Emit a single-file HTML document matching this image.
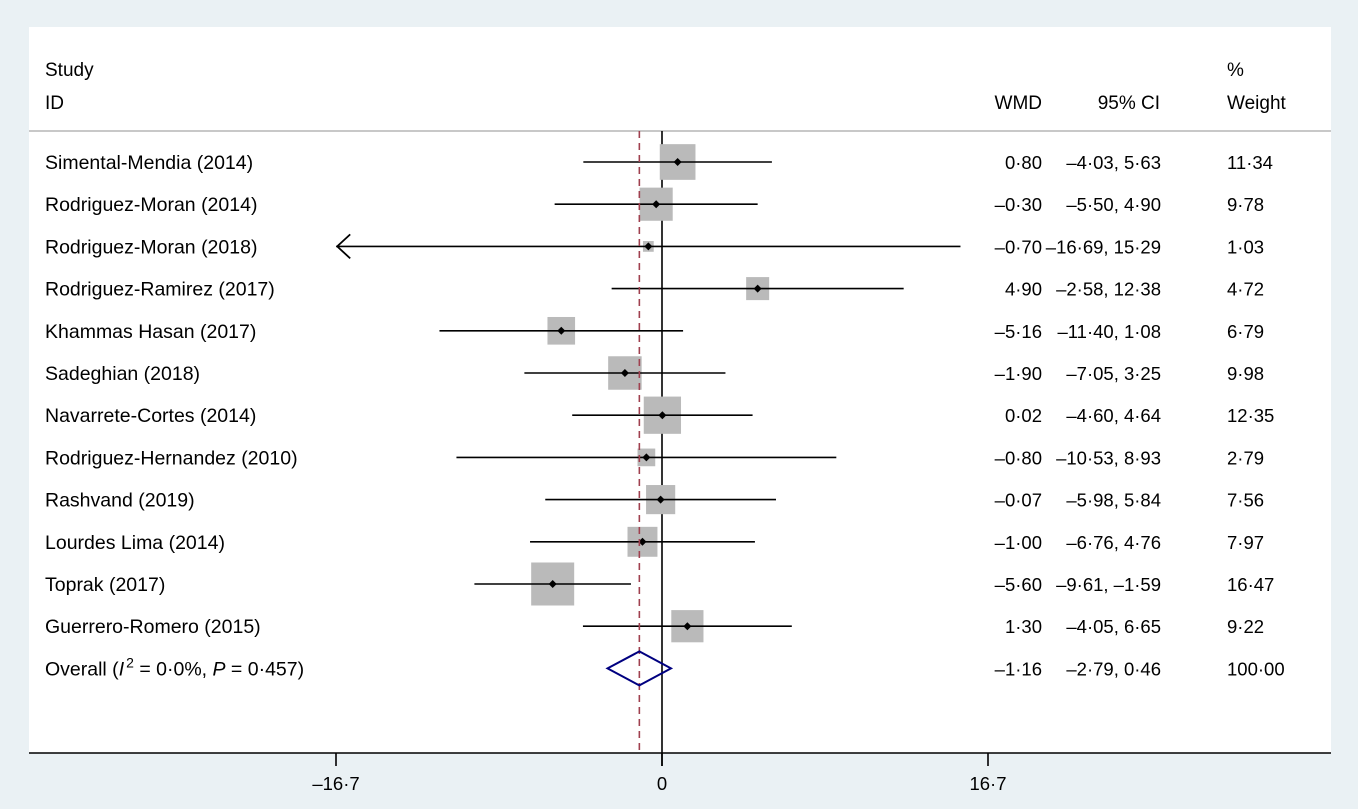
<!DOCTYPE html>
<html><head><meta charset="utf-8">
<style>
html,body{margin:0;padding:0;background:#eaf1f4;}
svg{display:block;font-family:"Liberation Sans",Arial,sans-serif;}
</style></head>
<body>
<svg id="chart" width="1358" height="809" viewBox="0 0 1358 809">
<rect x="0" y="0" width="1358" height="809" fill="#eaf1f4"/>
<rect x="29" y="27" width="1302" height="726" fill="#ffffff"/>
<g font-size="19" fill="#000">
<text x="45" y="76">Study</text>
<text x="45" y="109">ID</text>
<text x="1042" y="109" text-anchor="end">WMD</text>
<text x="1160" y="109" text-anchor="end">95% CI</text>
<text x="1227" y="76">%</text>
<text x="1227" y="109">Weight</text>
</g>
<line x1="29" y1="131" x2="1331" y2="131" stroke="#c8c8c8" stroke-width="2"/>
<g id="marks"></g>
</svg>
<script>
const studies = ["Simental-Mendia (2014)","Rodriguez-Moran (2014)","Rodriguez-Moran (2018)","Rodriguez-Ramirez (2017)","Khammas Hasan (2017)","Sadeghian (2018)","Navarrete-Cortes (2014)","Rodriguez-Hernandez (2010)","Rashvand (2019)","Lourdes Lima (2014)","Toprak (2017)","Guerrero-Romero (2015)"];
const wmd = [0.80,-0.30,-0.70,4.90,-5.16,-1.90,0.02,-0.80,-0.07,-1.00,-5.60,1.30];
const lower = [-4.03,-5.50,-16.69,-2.58,-11.40,-7.05,-4.60,-10.53,-5.98,-6.76,-9.61,-4.05];
const upper = [5.63,4.90,15.29,12.38,1.08,3.25,4.64,8.93,5.84,4.76,-1.59,6.65];
const weight = [11.34,9.78,1.03,4.72,6.79,9.98,12.35,2.79,7.56,7.97,16.47,9.22];
const overall = {est:-1.16, lo:-2.79, hi:0.46, w:100.00};
const ticks = [-16.7, 0, 16.7];
const tickLabels = ["\u201316\u00b77","0","16\u00b77"];
const axisMin = -16.69, axisMax = 16.69;

const NS="http://www.w3.org/2000/svg";
const g=document.getElementById('marks');
const FS=19.5, NF=18.5;
const xScale = v => 662 + (v/16.7)*326;
const yRow = i => 162 + i*42.2;
const fmt = v => (v<0?"\u2013":"") + Math.abs(v).toFixed(2).replace('.','\u00b7');
function mk(tag,attrs,parent){const e=document.createElementNS(NS,tag);for(const k in attrs)e.setAttribute(k,attrs[k]);(parent||g).appendChild(e);return e;}
const yOv = yRow(studies.length);
const zl=mk('line',{x1:xScale(0),y1:131,x2:xScale(0),y2:766,stroke:'#000','stroke-width':1.6});


const ax=mk('line',{x1:29,y1:753,x2:1331,y2:753,stroke:'#000','stroke-width':1.6});


ticks.forEach((t,i)=>{
  const tl=mk('line',{x1:xScale(t),y1:753,x2:xScale(t),y2:766,stroke:'#000','stroke-width':1.6});
  
  
  const tx=mk('text',{x:xScale(t),y:790,'text-anchor':'middle','font-size':NF});
  tx.textContent=tickLabels[i];
  
  
});
studies.forEach((s,i)=>{
  const y=yRow(i);
  const side=10.6*Math.sqrt(weight[i]);
  const b=mk('rect',{x:xScale(wmd[i])-side/2,y:y-side/2,width:side,height:side,fill:'#bababa'});
  
  
  const lo=Math.max(lower[i],axisMin), hi=Math.min(upper[i],axisMax);
  const l=mk('line',{x1:xScale(lo),y1:y,x2:xScale(hi),y2:y,stroke:'#000','stroke-width':1.6});
  
  
  if(lower[i]<=axisMin){
    const a=mk('polyline',{points:`${xScale(lo)+14},${y-12} ${xScale(lo)+1},${y} ${xScale(lo)+14},${y+12}`,fill:'none',stroke:'#000','stroke-width':1.8});
    
    
  }
  const cx=xScale(wmd[i]);
  const d=mk('polygon',{points:`${cx-4},${y} ${cx},${y-4} ${cx+4},${y} ${cx},${y+4}`,fill:'#000'});
  
  
  const t1=mk('text',{x:45,y:y+7,'font-size':FS});t1.textContent=s;
  
  
  const t2=mk('text',{x:1042,y:y+7,'font-size':NF,'text-anchor':'end'});t2.textContent=fmt(wmd[i]);
  
  
  const t3=mk('text',{x:1161,y:y+7,'font-size':NF,'text-anchor':'end'});t3.textContent=fmt(lower[i])+", "+fmt(upper[i]);
  
  
  const t4=mk('text',{x:1227,y:y+7,'font-size':NF});t4.textContent=fmt(weight[i]);
  
  
});
const dl=mk('line',{x1:xScale(overall.est),y1:131,x2:xScale(overall.est),y2:753,stroke:'#a0404f','stroke-width':1.6,'stroke-dasharray':'7,5'});


const dm=mk('polygon',{points:`${xScale(overall.lo)},${yOv} ${xScale(overall.est)},${yOv-17} ${xScale(overall.hi)},${yOv} ${xScale(overall.est)},${yOv+17}`,fill:'none',stroke:'#000080','stroke-width':2});


const ot=mk('text',{x:45,y:yOv+7,'font-size':FS});
ot.innerHTML='Overall (<tspan font-style="italic">I</tspan><tspan dx="2" dy="-8" font-size="14">2</tspan><tspan dy="8"> = 0\u00b70%, </tspan><tspan font-style="italic">P</tspan> = 0\u00b7457)';


const o2=mk('text',{x:1042,y:yOv+7,'font-size':NF,'text-anchor':'end'});o2.textContent=fmt(overall.est);


const o3=mk('text',{x:1161,y:yOv+7,'font-size':NF,'text-anchor':'end'});o3.textContent=fmt(overall.lo)+", "+fmt(overall.hi);


const o4=mk('text',{x:1227,y:yOv+7,'font-size':NF});o4.textContent=fmt(overall.w);


</script>
</body></html>
